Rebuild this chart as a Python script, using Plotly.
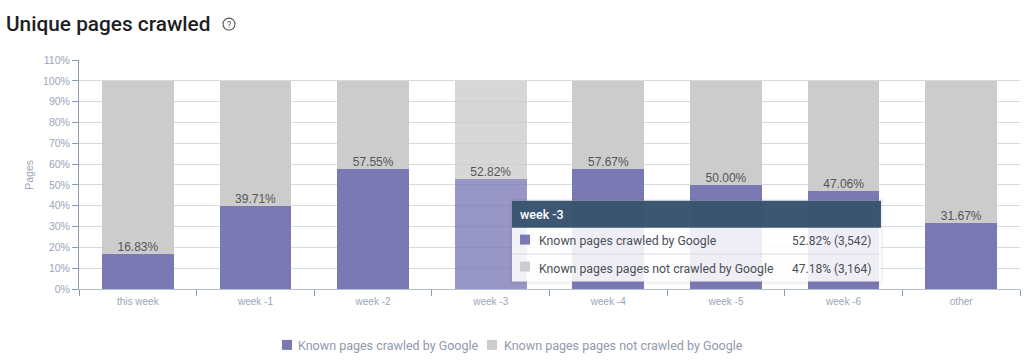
import plotly.graph_objects as go

categories = ["this week", "week -1", "week -2", "week -3", "week -4", "week -5", "week -6", "other"]
crawled = [16.83, 39.71, 57.55, 52.82, 57.67, 50.00, 47.06, 31.67]
not_crawled = [83.17, 60.29, 42.45, 47.18, 42.33, 50.00, 52.94, 68.33]
labels = ["16.83%", "39.71%", "57.55%", "52.82%", "57.67%", "50.00%", "47.06%", "31.67%"]
highlight = [1, 1, 1, 0.78, 1, 1, 1, 1]
series_names = ["Known pages crawled by Google", "Known pages pages not crawled by Google"]
tooltip_title = "week -3"
tooltip_values = ["52.82% (3,542)", "47.18% (3,164)"]

W, H = 1024, 361
ML, MR, MT, MB = 79, 4, 60, 71.5
PURPLE = "#7b79b3"
GREY = "#cccccc"
SANS = "Liberation Sans, Arial, sans-serif"
ROBOTO = "Roboto, sans-serif"


def px(x):
    return (x - ML) / (W - ML - MR)


def py(y):
    return (H - MB - y) / (H - MT - MB)


fig = go.Figure()
fig.add_bar(x=categories, y=crawled, name=series_names[0], width=0.61,
            marker=dict(color=PURPLE, opacity=highlight, line_width=0), hoverinfo="skip")
fig.add_bar(x=categories, y=not_crawled, name=series_names[1], width=0.61,
            marker=dict(color=GREY, opacity=highlight, line_width=0), hoverinfo="skip")
fig.add_scatter(x=categories, y=crawled, mode="text", text=labels, textposition="top center",
                textfont=dict(family=SANS, size=12, color="#555555"), showlegend=False, hoverinfo="skip",
                cliponaxis=False)

shapes = []
annotations = []


def rect(x0, y0, x1, y1, color, line=None):
    shapes.append(dict(type="rect", xref="paper", yref="paper", x0=px(x0), x1=px(x1), y0=py(y1), y1=py(y0),
                       fillcolor=color, line=dict(width=0 if line is None else 1, color=line or color), layer="above"))


def text(x, y, s, size, color, family=ROBOTO, anchor="left", weight=None, angle=0):
    annotations.append(dict(xref="paper", yref="paper", x=px(x), y=py(y), text=s, showarrow=False,
                            xanchor=anchor, yanchor="middle", textangle=angle, xshift=0,
                            font=dict(family=family, size=size, color=color, weight=weight), borderpad=0, borderwidth=0))


# Title and help icon
text(6, 24, "Unique pages crawled", 20.8, "#1d1f24", weight=500)
shapes.append(dict(type="circle", xref="paper", yref="paper", x0=px(223), x1=px(235), y0=py(30), y1=py(18),
                   line=dict(color="#555555", width=1.1), fillcolor="rgba(0,0,0,0)"))
text(229, 24.5, "?", 9, "#555555", anchor="center")

# Axis title
text(29, 175, "Pages", 10.5, "#9aa5b8", family=SANS, anchor="center", angle=-90)

# Legend
rect(282, 340.5, 292, 350.5, PURPLE)
rect(487, 340.5, 497, 350.5, GREY)
text(298, 346, series_names[0], 12.5, "#8f99ae")
text(504, 346, series_names[1], 12.5, "#8f99ae")

# Tooltip (hover state)
rect(510, 199, 883, 285, "rgba(90,90,90,0.07)")
rect(512, 201, 881, 282, "rgba(255,255,255,0.88)")
rect(512, 201, 881, 228, "rgba(34,64,94,0.88)")
rect(512, 254, 881, 255, "rgba(200,205,215,0.6)")
rect(520, 235, 530, 245, PURPLE)
rect(520, 262, 530, 272, GREY)
text(520, 214.5, tooltip_title, 12.5, "#ffffff", weight=500)
text(539, 241, series_names[0], 12.3, "#4a4f57")
text(539, 269, series_names[1], 12.3, "#4a4f57")
text(872, 241, tooltip_values[0], 12, "#4a4f57", anchor="right")
text(872, 269, tooltip_values[1], 12, "#4a4f57", anchor="right")

fig.update_layout(
    width=W, height=H, barmode="stack", paper_bgcolor="white", plot_bgcolor="white", showlegend=False,
    margin=dict(l=ML, r=MR, t=MT, b=MB, pad=0, autoexpand=False), shapes=shapes, annotations=annotations,
    xaxis=dict(tickson="boundaries", ticks="outside", ticklen=6, tickcolor="#8a9bb0", tickwidth=1,
               showline=True, linecolor="#b5bfcd", linewidth=1, showgrid=False, ticklabelstandoff=3,
               tickfont=dict(family=SANS, size=10, color="#9aa5b8"), fixedrange=True),
    yaxis=dict(range=[0, 110], tick0=0, dtick=10, ticks="outside", ticklen=6, tickcolor="#8a9bb0", tickwidth=1,
               ticksuffix="%", showline=True, linecolor="#8a9bb0", linewidth=1, showgrid=True,
               gridcolor="#d5dbe4", gridwidth=1, zeroline=False,
               tickfont=dict(family=SANS, size=10.5, color="#9aa5b8"), fixedrange=True),
)

fig.write_html("out.html", config=dict(displayModeBar=False),
               post_script="document.body.style.margin='0';document.documentElement.style.overflow='hidden';")
